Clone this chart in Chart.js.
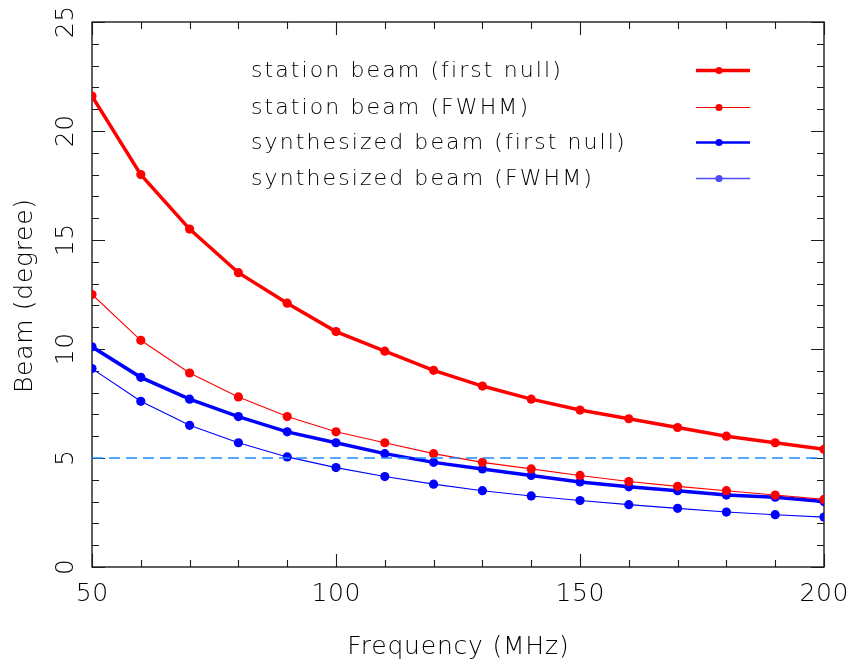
<!DOCTYPE html>
<html>
<head>
<meta charset="utf-8">
<script src="https://cdn.jsdelivr.net/npm/chart.js@4/dist/chart.umd.min.js"></script>
<style>
  html, body { margin: 0; padding: 0; background: #ffffff; }
  #wrap { width: 850px; height: 664px; }
</style>
</head>
<body>
<div id="wrap"><canvas id="beamChart" width="850" height="664"></canvas></div>
<script>
// Observing frequencies (MHz)
const frequencies = [50, 60, 70, 80, 90, 100, 110, 120, 130, 140, 150, 160, 170, 180, 190, 200];

// Beam sizes (degree)
const stationFirstNull = [21.6, 18.0, 15.5, 13.5, 12.1, 10.8, 9.9, 9.02, 8.3, 7.7, 7.2, 6.8, 6.4, 6.0, 5.7, 5.4];
const stationFWHM      = [12.5, 10.4, 8.9, 7.8, 6.9, 6.2, 5.7, 5.2, 4.8, 4.5, 4.2, 3.92, 3.7, 3.5, 3.3, 3.1];
const synthFirstNull   = [10.1, 8.7, 7.7, 6.9, 6.2, 5.7, 5.2, 4.8, 4.5, 4.2, 3.9, 3.68, 3.5, 3.3, 3.2, 3.0];
const synthFWHM        = [9.1, 7.6, 6.5, 5.7, 5.05, 4.56, 4.15, 3.8, 3.5, 3.26, 3.05, 2.86, 2.69, 2.52, 2.4, 2.29];

// Horizontal reference level (degree)
const referenceLevel = 5;

const seriesNames = [
  'station beam (first null)',
  'station beam (FWHM)',
  'synthesized beam (first null)',
  'synthesized beam (FWHM)'
];

const xMajorTicks = [50, 100, 150, 200];
const yMajorTicks = [0, 5, 10, 15, 20, 25];
const xAxisTitle = 'Frequency (MHz)';
const yAxisTitle = 'Beam (degree)';

const RED = '#ff0000';
const BLUE = '#0000ff';
const INK = '#000000';
const FONT = '"DejaVu Sans", sans-serif';

const toPoints = arr => arr.map((v, i) => ({ x: frequencies[i], y: v }));

function series(label, values, color, width, radius) {
  return {
    label,
    data: toPoints(values),
    borderColor: color,
    backgroundColor: color,
    borderWidth: width,
    pointRadius: radius,
    pointBackgroundColor: color,
    pointBorderWidth: 0,
    pointHoverRadius: radius,
    tension: 0,
    fill: false
  };
}

const datasets = [
  {
    label: 'reference',
    data: [{ x: frequencies[0], y: referenceLevel }, { x: frequencies[frequencies.length - 1], y: referenceLevel }],
    borderColor: '#1e8cff',
    borderWidth: 1.3,
    borderDash: [11, 6],
    pointRadius: 0,
    tension: 0,
    fill: false
  },
  series(seriesNames[0], stationFirstNull, RED, 3.5, 4.6),
  series(seriesNames[1], stationFWHM, RED, 1.1, 4.6),
  series(seriesNames[2], synthFirstNull, BLUE, 3.5, 4.6),
  series(seriesNames[3], synthFWHM, BLUE, 1.1, 4.6)
];

const legendStyles = [
  { color: RED, width: 3.5 },
  { color: RED, width: 1.1 },
  { color: BLUE, width: 2.6 },
  { color: '#4a4aff', width: 1.6 }
];

function spacedText(ctx, text, x, y, spacing) {
  ctx.letterSpacing = spacing + 'px';
  // trailing spacing is not part of the visible glyphs when centring
  const shift = ctx.textAlign === 'center' ? spacing / 2 : 0;
  ctx.fillText(text, x + shift, y);
  ctx.letterSpacing = '0px';
}

// Frame with inward ticks on all four sides, plus labels, titles and key
const framePlugin = {
  id: 'frame',
  beforeDatasetsDraw(chart) {
    const { ctx, chartArea: a, scales: { x, y } } = chart;
    ctx.save();
    ctx.strokeStyle = '#1c1c1c';
    ctx.lineWidth = 1.4;
    ctx.strokeRect(a.left, a.top, a.right - a.left, a.bottom - a.top);
    ctx.lineWidth = 1.1;
    ctx.beginPath();
    for (let f = x.min; f <= x.max; f += 10) {
      const px = Math.round(x.getPixelForValue(f)) + 0.5;
      const len = xMajorTicks.includes(f) ? 13 : 7;
      ctx.moveTo(px, a.bottom); ctx.lineTo(px, a.bottom - len);
      ctx.moveTo(px, a.top); ctx.lineTo(px, a.top + len);
    }
    for (let v = y.min; v <= y.max; v += 1) {
      const py = Math.round(y.getPixelForValue(v)) + 0.5;
      const len = yMajorTicks.includes(v) ? 13 : 7;
      ctx.moveTo(a.left, py); ctx.lineTo(a.left + len, py);
      ctx.moveTo(a.right, py); ctx.lineTo(a.right - len, py);
    }
    ctx.stroke();
    ctx.restore();
  },
  afterDraw(chart) {
    const { ctx, chartArea: a, scales: { x, y } } = chart;
    ctx.save();
    ctx.fillStyle = INK;

    // x tick labels
    ctx.font = '300 25px ' + FONT;
    ctx.textAlign = 'center';
    ctx.textBaseline = 'alphabetic';
    xMajorTicks.forEach(f => spacedText(ctx, String(f), x.getPixelForValue(f), 601, 0.6));

    // y tick labels, rotated
    yMajorTicks.forEach(v => {
      ctx.save();
      ctx.translate(73, y.getPixelForValue(v));
      ctx.rotate(-Math.PI / 2);
      ctx.textAlign = 'center';
      spacedText(ctx, String(v), 0, 0, 0.6);
      ctx.restore();
    });

    // axis titles
    ctx.font = '300 25px ' + FONT;
    ctx.textAlign = 'center';
    spacedText(ctx, xAxisTitle, (a.left + a.right) / 2, 654, 0.8);
    ctx.save();
    ctx.translate(32, 296);
    ctx.rotate(-Math.PI / 2);
    spacedText(ctx, yAxisTitle, 0, 0, 0.7);
    ctx.restore();

    // key
    ctx.font = '300 22px ' + FONT;
    ctx.textAlign = 'left';
    const rows = [77, 114, 149, 185];
    seriesNames.forEach((name, i) => {
      ctx.fillStyle = INK;
      spacedText(ctx, name, 251, rows[i], 2.1);
      const ly = rows[i] - 6.5;
      ctx.strokeStyle = legendStyles[i].color;
      ctx.lineWidth = legendStyles[i].width;
      ctx.beginPath();
      ctx.moveTo(696, ly); ctx.lineTo(750, ly);
      ctx.stroke();
      ctx.fillStyle = legendStyles[i].color;
      ctx.beginPath();
      ctx.arc(719, ly, 3.6, 0, Math.PI * 2);
      ctx.fill();
    });
    ctx.restore();
  }
};

new Chart(document.getElementById('beamChart'), {
  type: 'line',
  data: { datasets },
  options: {
    responsive: false,
    animation: false,
    devicePixelRatio: 1,
    layout: { padding: { left: 92, right: 26, top: 22, bottom: 97 } },
    scales: {
      x: { type: 'linear', min: 50, max: 200, display: false },
      y: { type: 'linear', min: 0, max: 25, display: false }
    },
    plugins: { legend: { display: false }, tooltip: { enabled: false } },
    events: []
  },
  plugins: [framePlugin]
});
</script>
</body>
</html>
